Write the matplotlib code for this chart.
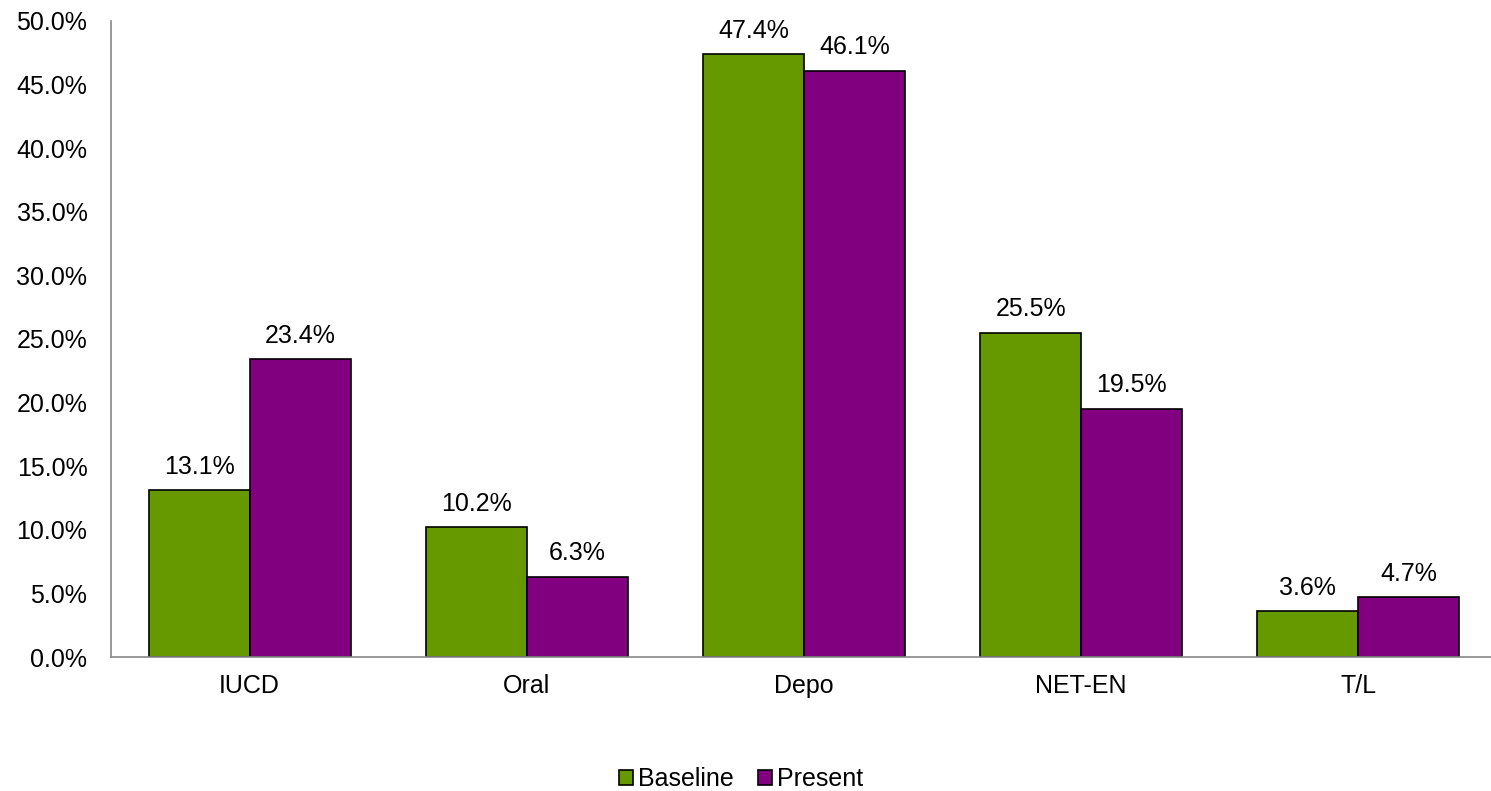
import matplotlib
matplotlib.use("Agg")
import matplotlib.pyplot as plt
import numpy as np
from matplotlib.ticker import FuncFormatter

categories = ["IUCD", "Oral", "Depo", "NET-EN", "T/L"]
baseline = [13.1, 10.2, 47.4, 25.5, 3.6]
present = [23.4, 6.3, 46.1, 19.5, 4.7]
series_names = ["Baseline", "Present"]
colors = ["#669900", "#800080"]

plt.rcParams['font.family'] = ['Liberation Sans', 'DejaVu Sans']
fig = plt.figure(figsize=(14.91, 7.91), dpi=100)
ax = fig.add_axes([111/1491, 0.1694, (1497-111)/1491, 0.8041])

x = np.arange(len(categories))
w = 0.3646
b1 = ax.bar(x - w/2, baseline, w, color=colors[0], edgecolor="black", linewidth=1.2, label=series_names[0])
b2 = ax.bar(x + w/2, present, w, color=colors[1], edgecolor="black", linewidth=1.2, label=series_names[1])
for bars, vals in ((b1, baseline), (b2, present)):
    for r, v in zip(bars, vals):
        ax.text(r.get_x() + r.get_width()/2, v + 0.9, f"{v:.1f}%", ha="center", va="bottom", fontsize=18)

ax.set_xlim(-0.5, len(categories) - 0.5)
ax.set_ylim(0, 50)
ax.set_yticks(np.arange(0, 50.1, 5))
ax.yaxis.set_major_formatter(FuncFormatter(lambda v, p: f"{v:.1f}%"))
ax.set_xticks(x)
ax.set_xticklabels(categories)
ax.tick_params(axis="both", length=0, labelsize=18)
ax.tick_params(axis="y", pad=17)
ax.tick_params(axis="x", pad=12)
for s in ["top", "right"]:
    ax.spines[s].set_visible(False)
for s in ["left", "bottom"]:
    ax.spines[s].set_color("#888888")
    ax.spines[s].set_linewidth(1.2)

fig.legend(handles=[b1, b2], labels=series_names, loc="center", bbox_to_anchor=(0.497, 0.015), ncol=2, frameon=False,
           fontsize=18, handlelength=0.55, handleheight=0.55, handletextpad=0.2, columnspacing=1.0,
           borderpad=0, borderaxespad=0)

fig.savefig("out.png", dpi=100)
